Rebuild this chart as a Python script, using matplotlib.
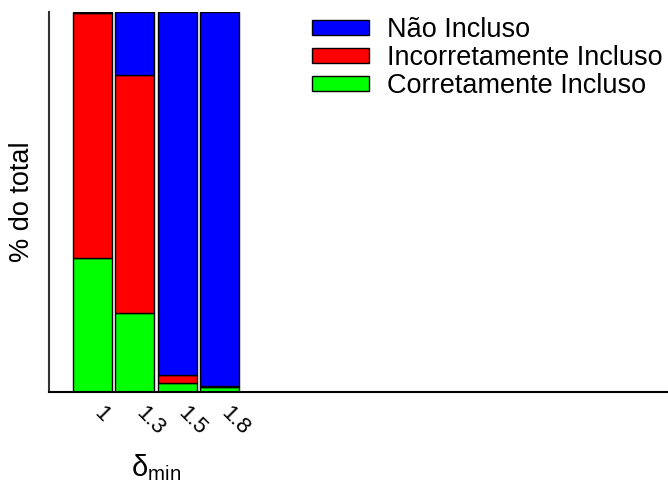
import matplotlib
matplotlib.use("Agg")
import matplotlib.pyplot as plt
import matplotlib.transforms as mtransforms
import numpy as np

plt.rcParams['font.family'] = ['Liberation Sans', 'DejaVu Sans']
plt.rcParams['mathtext.fontset'] = 'custom'
plt.rcParams['mathtext.rm'] = 'Liberation Sans'

# percent of total per delta_min value
delta_min = ['1', '1.3', '1.5', '1.8']
corretamente = [35.3, 20.9, 2.4, 1.4]
incorretamente = [64.4, 62.4, 2.0, 0.3]
nao_incluso = [0.3, 16.7, 95.6, 98.3]

fig = plt.figure(figsize=(6.68, 4.83), dpi=100)
ax = fig.add_axes([49 / 668, 91 / 483, 619 / 668, 380 / 483])

x = np.arange(len(delta_min))
w = 0.92
bottom2 = np.array(corretamente)
bottom3 = bottom2 + np.array(incorretamente)

b1 = ax.bar(x, corretamente, w, color='#00ff00', edgecolor='black', linewidth=1)
b2 = ax.bar(x, incorretamente, w, bottom=bottom2, color='#ff0000', edgecolor='black', linewidth=1)
b3 = ax.bar(x, nao_incluso, w, bottom=bottom3, color='#0000ff', edgecolor='black', linewidth=1)

ax.set_xlim(-1.02, 13.58)
ax.set_ylim(0, 100)

for s in ['top', 'right']:
    ax.spines[s].set_visible(False)
ax.spines['left'].set_color('#333333')
ax.spines['left'].set_linewidth(1.5)
ax.spines['bottom'].set_linewidth(1.5)

ax.set_yticks([])
ax.set_xticks(x)
ax.set_xticklabels(delta_min, rotation=-45, ha='left', va='top', fontsize=16)
ax.tick_params(axis='x', length=0, pad=8)
# nudge the slanted labels a little to the left
nudge = mtransforms.ScaledTranslation(-3 / 100, 0, fig.dpi_scale_trans)
for lab in ax.get_xticklabels():
    lab.set_transform(lab.get_transform() + nudge)

ax.set_ylabel('% do total', fontsize=19.5, va='center')
ax.yaxis.set_label_coords(-0.044, 0.5)
ax.set_xlabel(r'$\mathrm{\delta_{min}}$', fontsize=21, va='center')
ax.xaxis.set_label_coords((156 - 49) / 619, -0.2)

ax.legend([b3, b2, b1], ['Não Incluso', 'Incorretamente Incluso', 'Corretamente Incluso'],
          loc='upper left', bbox_to_anchor=(312 / 668, 1 - 17 / 483),
          bbox_transform=fig.transFigure, frameon=False, fontsize=19.5,
          handlelength=2.1, handleheight=0.48, handletextpad=0.66,
          labelspacing=0.08, borderpad=0, borderaxespad=0)

fig.savefig('out.png', dpi=100)
